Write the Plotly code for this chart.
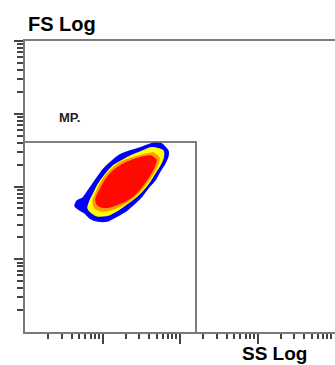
import numpy as np
import plotly.graph_objects as go

# Density contour outlines (SS Log, FS Log channel values), outermost first
blue_ss = [47.5, 58.1, 70.0, 70.0, 64.0, 55.2, 47.5, 38.6, 32.4, 26.3, 20.7, 15.4, 11.4, 8.75,
           6.90, 5.94, 5.12, 4.42, 4.69, 5.60, 6.50, 8.00, 10.1, 13.3, 16.8, 22.6, 30.5, 38.6]
blue_fs = [396, 384, 308, 263, 210, 163, 123, 95.4, 74.0, 59.3, 47.5, 39.3, 33.5, 33.5,
           36.9, 43.2, 47.5, 53.9, 63.2, 69.5, 86.7, 119, 169, 224, 271, 308, 338, 372]

yellow_ss = [47.5, 60.4, 60.4, 55.2, 47.5, 41.0, 33.3, 27.9, 21.3, 15.8, 11.8, 8.75,
             7.32, 6.50, 6.90, 7.54, 8.75, 10.8, 13.7, 18.4, 24.8, 33.3, 41.0]
yellow_fs = [338, 308, 246, 198, 153, 119, 89.5, 74.0, 59.3, 47.5, 40.6, 39.3,
             43.2, 50.6, 63.2, 76.4, 105, 144, 191, 231, 271, 308, 338]

orange_ss = [44.8, 53.6, 50.5, 43.5, 35.3, 28.7, 22.6, 16.8, 12.5, 9.86, 8.00, 7.54,
             8.49, 9.86, 12.5, 16.8, 24.0, 33.3]
orange_fs = [289, 246, 191, 144, 105, 81.5, 65.2, 53.9, 47.5, 46.0, 50.6, 63.2,
             86.7, 119, 163, 210, 246, 271]

red_ss = [42.2, 49.0, 46.2, 39.8, 32.4, 26.3, 20.7, 15.8, 12.1, 9.86, 8.49, 8.24,
          9.28, 10.8, 13.3, 17.9, 24.8, 33.3]
red_fs = [263, 231, 185, 139, 101.6, 78.9, 65.2, 57.5, 52.3, 52.3, 57.5, 67.3,
          89.5, 119, 158, 198, 231, 254]

# "MP." region gate
gate_ss = [1, 161, 161]
gate_fs = [409, 409, 1]
gate_label = "MP."
gate_label_pos = (2.6, 880)

# Log axis ticks (decade marks and the 2..9 subdivisions)
x_major_ticks = [10, 100, 1000]
y_major_ticks = [10, 100, 1000, 10000]
minor_ticks = [m * 10 ** d for d in range(4) for m in range(2, 10)]

fig = go.Figure()

levels = [
    (blue_ss, blue_fs, "#0000ff"),
    (yellow_ss, yellow_fs, "#ffff00"),
    (orange_ss, orange_fs, "#ff9a00"),
    (red_ss, red_fs, "#ff0a00"),
]
for xs, ys, col in levels:
    fig.add_trace(go.Scatter(
        x=xs + xs[:1], y=ys + ys[:1], mode="lines", fill="toself",
        fillcolor=col, line=dict(color=col, width=1.5, shape="spline", smoothing=0.6),
        hoverinfo="skip", showlegend=False,
    ))

fig.add_trace(go.Scatter(
    x=gate_ss, y=gate_fs, mode="lines",
    line=dict(color="#555555", width=1.5), hoverinfo="skip", showlegend=False,
))

axis_common = dict(
    type="log", range=[0, 4], showgrid=False, zeroline=False,
    showline=True, linecolor="#7a7a7a", linewidth=2,
    ticks="outside", ticklen=10, tickwidth=1.5,
    tickcolor="#444444", showticklabels=False,
    minor=dict(tickvals=minor_ticks, ticks="outside", ticklen=5,
               tickwidth=1.5, tickcolor="#444444"),
)

fig.update_layout(
    width=335, height=365,
    margin=dict(l=25, r=0, t=41, b=33),
    paper_bgcolor="white", plot_bgcolor="white",
    xaxis=dict(axis_common, tickvals=x_major_ticks, mirror=True),
    yaxis=dict(axis_common, tickvals=y_major_ticks, ticklen=9,
               minor=dict(axis_common["minor"], ticklen=6)),
    annotations=[
        dict(text="<b>FS Log</b>", xref="paper", yref="paper", x=0.003, y=1 + 17 / 291,
             xanchor="left", yanchor="middle", showarrow=False,
             font=dict(family="Liberation Sans, Arial", size=20, color="black")),
        dict(text="<b>SS Log</b>", xref="paper", yref="paper", x=0.695, y=-21 / 291,
             xanchor="left", yanchor="middle", showarrow=False,
             font=dict(family="Liberation Sans, Arial", size=19, color="black")),
        dict(text="<b>" + gate_label + "</b>", x=np.log10(gate_label_pos[0]),
             y=np.log10(gate_label_pos[1]), xanchor="left", yanchor="middle",
             showarrow=False,
             font=dict(family="Liberation Sans, Arial", size=13, color="#222222")),
    ],
)

fig.write_html("out.html")
